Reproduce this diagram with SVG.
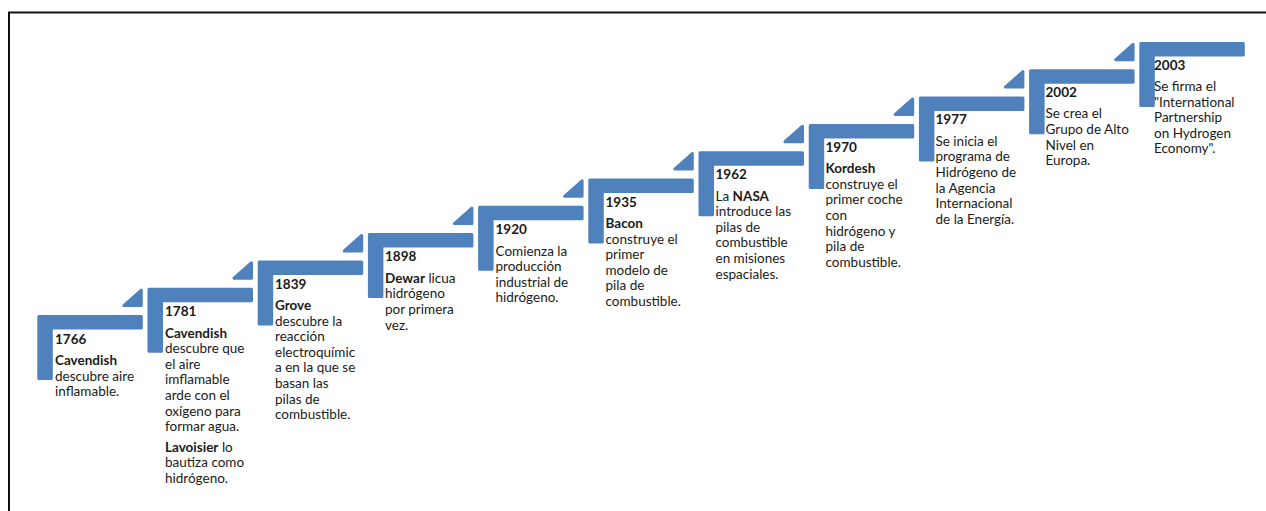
<svg xmlns="http://www.w3.org/2000/svg" width="1266" height="511" viewBox="0 0 1266 511">
<style>
.bg{fill:#ffffff}
.frame{fill:none;stroke:#111111;stroke-width:2}
.step{fill:#4f81bd;stroke:#4f81bd;stroke-width:3;stroke-linejoin:round}
.arrow{fill:#4f81bd;stroke:#4f81bd;stroke-width:3;stroke-linejoin:round}
text{font-family:Lato,"Liberation Sans",sans-serif;font-size:13.5px;fill:#1a1a1a}
.yr,.b{font-weight:bold}
</style>
<defs>
<path id="L" d="M1.5,1.5 H104 V13 H14 V63.5 H1.5 Z"/>
<path id="T" d="M86.5,-9.5 H104 V-25 Z"/>
</defs>
<rect class="bg" x="0" y="0" width="1266" height="511"/>
<path class="frame" d="M9,511 V12.5 H1266"/>

<g id="connectors">
<use href="#T" class="arrow" transform="translate(37.3,315)"/>
<use href="#T" class="arrow" transform="translate(147.5,287.7)"/>
<use href="#T" class="arrow" transform="translate(257.7,260.4)"/>
<use href="#T" class="arrow" transform="translate(367.9,233.1)"/>
<use href="#T" class="arrow" transform="translate(478.1,205.8)"/>
<use href="#T" class="arrow" transform="translate(588.3,178.5)"/>
<use href="#T" class="arrow" transform="translate(698.5,151.2)"/>
<use href="#T" class="arrow" transform="translate(808.7,123.9)"/>
<use href="#T" class="arrow" transform="translate(918.9,96.6)"/>
<use href="#T" class="arrow" transform="translate(1029.1,69.3)"/>
</g>

<g id="n1766">
<use href="#L" class="step" transform="translate(37.3,315)"/>
<text x="55" y="343.5" class="yr">1766</text>
<text x="55" y="365"><tspan class="b">Cavendish</tspan><tspan x="55" dy="15.6">descubre aire</tspan><tspan x="55" dy="15.6">inflamable.</tspan></text>
</g>

<g id="n1781">
<use href="#L" class="step" transform="translate(147.5,287.7)"/>
<text x="165" y="316.3" class="yr">1781</text>
<text x="165" y="337.5"><tspan class="b">Cavendish</tspan><tspan x="165" dy="15.6">descubre que</tspan><tspan x="165" dy="15.6">el aire</tspan><tspan x="165" dy="15.6">imflamable</tspan><tspan x="165" dy="15.6">arde con el</tspan><tspan x="165" dy="15.6">oxígeno para</tspan><tspan x="165" dy="15.6">formar agua.</tspan></text>
<text x="165" y="451.5"><tspan class="b">Lavoisier</tspan> lo<tspan x="165" dy="15.6">bautiza como</tspan><tspan x="165" dy="15.6">hidrógeno.</tspan></text>
</g>

<g id="n1839">
<use href="#L" class="step" transform="translate(257.7,260.4)"/>
<text x="275" y="288.7" class="yr">1839</text>
<text x="275" y="310"><tspan class="b">Grove</tspan><tspan x="275" dy="15.6">descubre la</tspan><tspan x="275" dy="15.6">reacción</tspan><tspan x="275" dy="15.6">electroquímic</tspan><tspan x="275" dy="15.6">a en la que se</tspan><tspan x="275" dy="15.6">basan las</tspan><tspan x="275" dy="15.6">pilas de</tspan><tspan x="275" dy="15.6">combustible.</tspan></text>
</g>

<g id="n1898">
<use href="#L" class="step" transform="translate(367.9,233.1)"/>
<text x="385" y="261.3" class="yr">1898</text>
<text x="385" y="282.7"><tspan class="b">Dewar</tspan> licua<tspan x="385" dy="15.6">hidrógeno</tspan><tspan x="385" dy="15.6">por primera</tspan><tspan x="385" dy="15.6">vez.</tspan></text>
</g>

<g id="n1920">
<use href="#L" class="step" transform="translate(478.1,205.8)"/>
<text x="495.5" y="234" class="yr">1920</text>
<text x="495.5" y="255.5">Comienza la<tspan x="495.5" dy="15.6">producción</tspan><tspan x="495.5" dy="15.6">industrial de</tspan><tspan x="495.5" dy="15.6">hidrógeno.</tspan></text>
</g>

<g id="n1935">
<use href="#L" class="step" transform="translate(588.3,178.5)"/>
<text x="605.5" y="206.6" class="yr">1935</text>
<text x="605.5" y="228"><tspan class="b">Bacon</tspan><tspan x="605.5" dy="15.6">construye el</tspan><tspan x="605.5" dy="15.6">primer</tspan><tspan x="605.5" dy="15.6">modelo de</tspan><tspan x="605.5" dy="15.6">pila de</tspan><tspan x="605.5" dy="15.6">combustible.</tspan></text>
</g>

<g id="n1962">
<use href="#L" class="step" transform="translate(698.5,151.2)"/>
<text x="715.5" y="179.2" class="yr">1962</text>
<text x="715.5" y="200.6">La <tspan class="b">NASA</tspan><tspan x="715.5" dy="15.6">introduce las</tspan><tspan x="715.5" dy="15.6">pilas de</tspan><tspan x="715.5" dy="15.6">combustible</tspan><tspan x="715.5" dy="15.6">en misiones</tspan><tspan x="715.5" dy="15.6">espaciales.</tspan></text>
</g>

<g id="n1970">
<use href="#L" class="step" transform="translate(808.7,123.9)"/>
<text x="825.5" y="151.8" class="yr">1970</text>
<text x="825.5" y="173.2"><tspan class="b">Kordesh</tspan><tspan x="825.5" dy="15.6">construye el</tspan><tspan x="825.5" dy="15.6">primer coche</tspan><tspan x="825.5" dy="15.6">con</tspan><tspan x="825.5" dy="15.6">hidrógeno y</tspan><tspan x="825.5" dy="15.6">pila de</tspan><tspan x="825.5" dy="15.6">combustible.</tspan></text>
</g>

<g id="n1977">
<use href="#L" class="step" transform="translate(918.9,96.6)"/>
<text x="935.5" y="124.4" class="yr">1977</text>
<text x="935.5" y="145.8">Se inicia el<tspan x="935.5" dy="15.6">programa de</tspan><tspan x="935.5" dy="15.6">Hidrógeno de</tspan><tspan x="935.5" dy="15.6">la Agencia</tspan><tspan x="935.5" dy="15.6">Internacional</tspan><tspan x="935.5" dy="15.6">de la Energía.</tspan></text>
</g>

<g id="n2002">
<use href="#L" class="step" transform="translate(1029.1,69.3)"/>
<text x="1045.5" y="97" class="yr">2002</text>
<text x="1045.5" y="118.4">Se crea el<tspan x="1045.5" dy="15.6">Grupo de Alto</tspan><tspan x="1045.5" dy="15.6">Nivel en</tspan><tspan x="1045.5" dy="15.6">Europa.</tspan></text>
</g>

<g id="n2003">
<use href="#L" class="step" transform="translate(1139.3,42)"/>
<text x="1154" y="69.6" class="yr">2003</text>
<text x="1154" y="91">Se firma el<tspan x="1154" dy="15.6">"International</tspan><tspan x="1154" dy="15.6">Partnership</tspan><tspan x="1154" dy="15.6">on Hydrogen</tspan><tspan x="1154" dy="15.6">Economy".</tspan></text>
</g>
</svg>
